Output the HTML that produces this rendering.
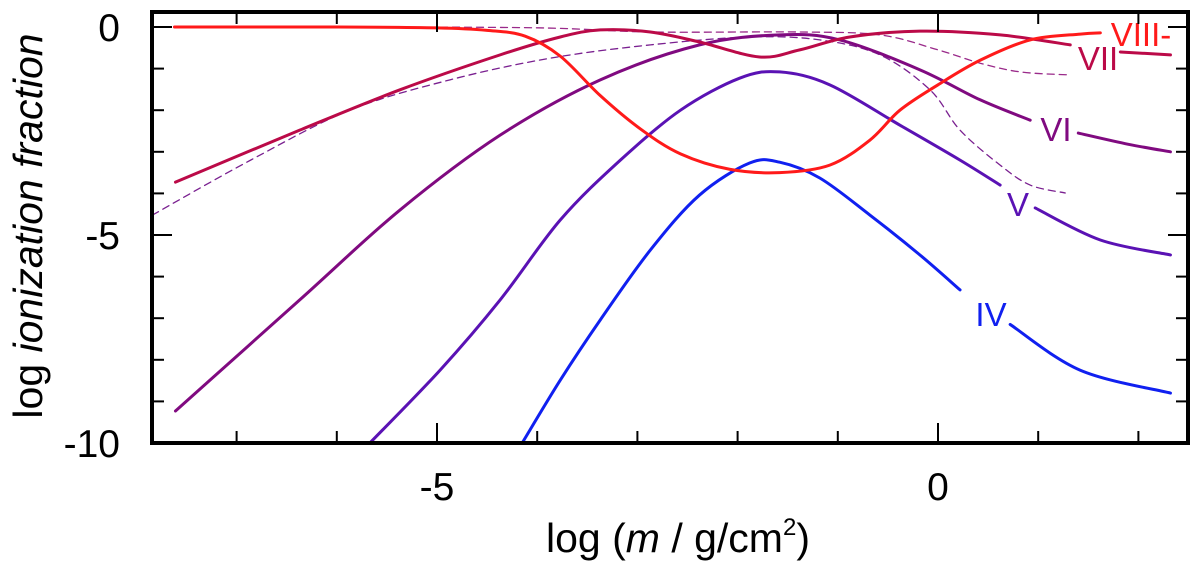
<!DOCTYPE html>
<html><head><meta charset="utf-8"><style>
html,body{margin:0;padding:0;background:#fff;}
svg{display:block;font-family:"Liberation Sans",sans-serif;}
</style></head><body>
<svg id="chart" width="1200" height="561" viewBox="0 0 1200 561" xmlns="http://www.w3.org/2000/svg">
<g id="plot"></g>
<g id="axes"></g>
</svg>
<script>
const xTicksMajor = [-5, 0];
const yTicksMajor = [0, -5, -10];
const yTickLabels = ["0", "-5", "-10"];
const xTickLabels = ["-5", "0"];
const ionVIII_x = [-7.62,-6,-5,-4.5,-4.12,-3.77,-3.37,-2.97,-2.57,-2.08,-1.58,-1.08,-0.68,-0.38,0,0.42,0.92,1.42,1.62];
const ionVIII_y = [0,0,-0.02,-0.08,-0.22,-0.7,-1.65,-2.45,-3.05,-3.42,-3.5,-3.32,-2.72,-2.0,-1.39,-0.8,-0.31,-0.17,-0.14];
const ionVII_x = [-7.61,-6.37,-5.37,-4.37,-3.77,-3.37,-2.87,-2.38,-1.78,-1.38,-0.88,-0.18,0.62,1.32];
const ionVII_y = [-3.73,-2.48,-1.51,-0.67,-0.24,-0.07,-0.12,-0.36,-0.72,-0.55,-0.24,-0.1,-0.19,-0.43];
const ionVII_x2 = [1.82,2.32];
const ionVII_y2 = [-0.6,-0.67];
const ionVI_x = [-7.61,-6.37,-5.37,-4.37,-3.37,-2.38,-1.58,-0.98,-0.18,0.42,0.92];
const ionVI_y = [-9.23,-6.56,-4.4,-2.6,-1.27,-0.43,-0.19,-0.31,-1.03,-1.75,-2.24];
const ionVI_x2 = [1.4,1.9,2.32];
const ionVI_y2 = [-2.55,-2.82,-3.0];
const ionV_x = [-5.67,-4.97,-4.37,-3.77,-3.17,-2.57,-1.98,-1.58,-1.08,-0.38,0.22,0.62];
const ionV_y = [-10,-8.25,-6.56,-4.64,-3.2,-2.0,-1.23,-1.08,-1.39,-2.36,-3.2,-3.8];
const ionV_x2 = [0.97,1.62,2.32];
const ionV_y2 = [-4.35,-5.12,-5.48];
const ionIV_x = [-4.15,-3.77,-3.37,-2.87,-2.38,-1.88,-1.58,-1.18,-0.68,-0.18,0.22];
const ionIV_y = [-10,-8.49,-7.04,-5.36,-4.04,-3.27,-3.25,-3.63,-4.52,-5.48,-6.32];
const ionIV_x2 = [0.72,1.42,2.32];
const ionIV_y2 = [-7.15,-8.25,-8.8];
const dashA_x = [-7.84,-6,-4,-2.87,-1.38,-0.58,0,0.42,0.82,1.29];
const dashA_y = [0,0,-0.02,-0.12,-0.12,-0.19,-0.55,-0.87,-1.08,-1.15];
const dashB_x = [-7.84,-6.86,-5.87,-4.87,-3.87,-2.87,-1.88,-1.18,-0.58,-0.08,0.22,0.62,0.92,1.27];
const dashB_y = [-4.52,-3.2,-2.0,-1.27,-0.75,-0.43,-0.24,-0.31,-0.67,-1.51,-2.48,-3.32,-3.8,-3.99];

const L=152,R=1188,T=12,B=443;
function X(v){return 938+100.2*v;}
function Y(v){return 27-41.6*v;}
const NS="http://www.w3.org/2000/svg";
const plot=document.getElementById('plot'), axes=document.getElementById('axes');
function mk(tag,attrs,parent){const e=document.createElementNS(NS,tag);for(const k in attrs)e.setAttribute(k,attrs[k]);parent.appendChild(e);return e;}
function pathD(xs,ys){
  const p=xs.map((x,i)=>[X(x),Y(ys[i])]);
  let d="M"+p[0][0]+","+p[0][1];
  for(let i=0;i<p.length-1;i++){
    const p0=p[i-1]||p[i],p1=p[i],p2=p[i+1],p3=p[i+2]||p2;
    const c1=[p1[0]+(p2[0]-p0[0])/6,p1[1]+(p2[1]-p0[1])/6];
    const c2=[p2[0]-(p3[0]-p1[0])/6,p2[1]-(p3[1]-p1[1])/6];
    d+=" C"+c1+" "+c2+" "+p2;
  }
  return d;
}
const cp=mk('clipPath',{id:'clip'},mk('defs',{},plot));
mk('rect',{x:L,y:T,width:R-L,height:B-T},cp);
const g=mk('g',{'clip-path':'url(#clip)'},plot);
function line(xs,ys,color,w,dash,name){
  const e=mk('path',{d:pathD(xs,ys),fill:'none',stroke:color,'stroke-width':w,'stroke-linecap':'round'},g);
  if(dash)e.setAttribute('stroke-dasharray',dash);
  
  
}
line(dashA_x,dashA_y,'#9a2a8a',1.3,'7,5','dashed-line-upper');
line(dashB_x,dashB_y,'#7a2090',1.3,'7,5','dashed-line-lower');
line(ionIV_x,ionIV_y,'#1020f0',3,null,'line-iv');
line(ionIV_x2,ionIV_y2,'#1020f0',3,null,'line-iv-tail');
line(ionV_x,ionV_y,'#5a12b4',3,null,'line-v');
line(ionV_x2,ionV_y2,'#5a12b4',3,null,'line-v-tail');
line(ionVI_x,ionVI_y,'#800a80',3,null,'line-vi');
line(ionVI_x2,ionVI_y2,'#800a80',3,null,'line-vi-tail');
line(ionVII_x,ionVII_y,'#bb0a48',3,null,'line-vii');
line(ionVII_x2,ionVII_y2,'#bb0a48',3,null,'line-vii-tail');
line(ionVIII_x,ionVIII_y,'#ff1a1a',3,null,'line-viii');

function lab(t,x,y,c,name){const e=mk('text',{x:x,y:y,fill:c,'font-size':33,'text-anchor':'middle'},plot);e.textContent=t;

}
lab('VIII-',1141,46,'#ff1a1a','label-viii');
lab('VII',1098,70,'#bb0a48','label-vii');
lab('VI',1056,141,'#800a80','label-vi');
lab('V',1018,216,'#5a12b4','label-v');
lab('IV',991,326,'#1020f0','label-iv');

for(let v=-7;v<=2;v++){const x=X(v),len=xTicksMajor.includes(v)?20:12;
  mk('line',{x1:x,x2:x,y1:B,y2:B-len,stroke:'#000','stroke-width':2},axes);
  mk('line',{x1:x,x2:x,y1:T,y2:T+len,stroke:'#000','stroke-width':2},axes);}
for(let v=0;v>=-10;v--){const y=Y(v),len=yTicksMajor.includes(v)?20:12;
  mk('line',{x1:L,x2:L+len,y1:y,y2:y,stroke:'#000','stroke-width':2},axes);
  mk('line',{x1:R,x2:R-len,y1:y,y2:y,stroke:'#000','stroke-width':2},axes);}
const fr=mk('rect',{x:L,y:T,width:R-L,height:B-T,fill:'none',stroke:'#000','stroke-width':4},axes);


yTicksMajor.forEach((v,i)=>{const e=mk('text',{x:120,y:Y(v)+14,'font-size':39,'text-anchor':'end'},axes);e.textContent=yTickLabels[i];

});
xTicksMajor.forEach((v,i)=>{const e=mk('text',{x:X(v),y:500,'font-size':39,'text-anchor':'middle'},axes);e.textContent=xTickLabels[i];

});
</script>
<svg style="position:absolute;left:0;top:0" width="1200" height="561">
<text x="0" y="0" transform="translate(42,226) rotate(-90)" text-anchor="middle" font-size="41" font-family="Liberation Sans, sans-serif">log <tspan font-style="italic">ionization fraction</tspan></text>
<text x="678" y="552" text-anchor="middle" font-size="41" font-family="Liberation Sans, sans-serif">log (<tspan font-style="italic">m</tspan> / g/cm<tspan font-size="24" dy="-17">2</tspan><tspan dy="17">)</tspan></text>
</svg>
</body></html>
